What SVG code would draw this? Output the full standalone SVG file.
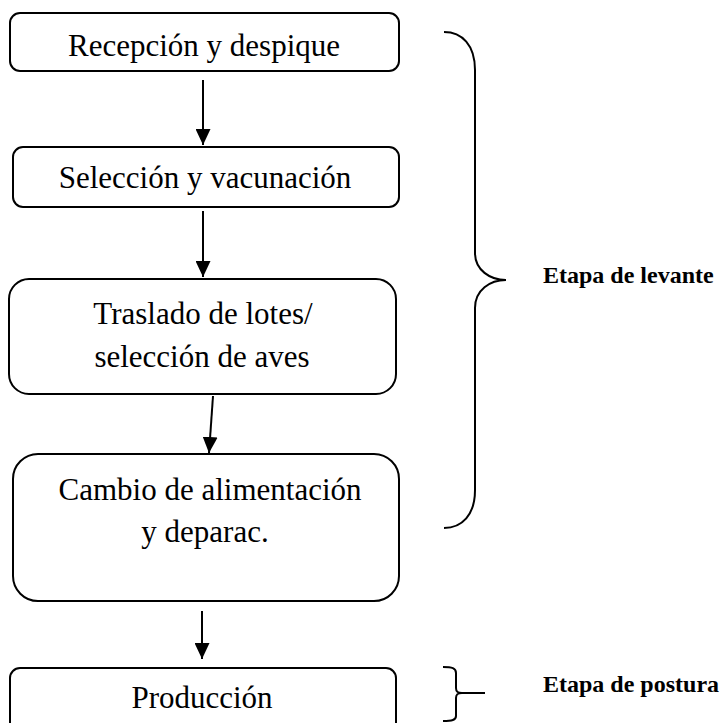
<svg xmlns="http://www.w3.org/2000/svg" width="722" height="723" viewBox="0 0 722 723">
  <defs>
    <style>
      .box { fill: #ffffff; stroke: #000000; stroke-width: 2; }
      .label { font-family: "Liberation Serif", "Times New Roman", serif; font-size: 31px; fill: #000000; text-anchor: middle; }
      .stage { font-family: "Liberation Serif", "Times New Roman", serif; font-size: 24px; font-weight: bold; fill: #000000; }
      .link { stroke: #000000; stroke-width: 2; fill: none; }
      .brace { stroke: #000000; stroke-width: 2; fill: none; }
    </style>
    <marker id="arrow" viewBox="0 0 16 15" refX="16" refY="7.5" markerWidth="16" markerHeight="15" markerUnits="userSpaceOnUse" orient="auto">
      <path d="M0,0 L16,7.5 L0,15 Z" fill="#000000"/>
    </marker>
  </defs>

  <rect width="722" height="723" fill="#ffffff"/>

  <!-- process steps -->
  <g id="recepcion">
    <rect class="box" x="10" y="13" width="389" height="58" rx="10"/>
    <text class="label" x="204" y="56">Recepción y despique</text>
  </g>
  <g id="seleccion">
    <rect class="box" x="13" y="147" width="386" height="60" rx="10"/>
    <text class="label" x="205" y="188">Selección y vacunación</text>
  </g>
  <g id="traslado">
    <rect class="box" x="9" y="279" width="387" height="115" rx="20"/>
    <text class="label" x="203" y="324">Traslado de lotes/</text>
    <text class="label" x="202" y="367">selección de aves</text>
  </g>
  <g id="cambio">
    <rect class="box" x="13" y="454" width="386" height="147" rx="25"/>
    <text class="label" x="210" y="500">Cambio de alimentación</text>
    <text class="label" x="205" y="542">y deparac.</text>
  </g>
  <g id="produccion">
    <rect class="box" x="10" y="668" width="386" height="80" rx="10"/>
    <text class="label" x="202" y="708">Producción</text>
  </g>

  <!-- flow arrows -->
  <g id="connectors">
    <line class="link" x1="203" y1="80" x2="203" y2="145" marker-end="url(#arrow)"/>
    <line class="link" x1="203" y1="211" x2="203" y2="277" marker-end="url(#arrow)"/>
    <line class="link" x1="213" y1="396" x2="209" y2="453" marker-end="url(#arrow)"/>
    <line class="link" x1="202" y1="611" x2="202" y2="659" marker-end="url(#arrow)"/>
  </g>

  <!-- stage braces and labels -->
  <g id="etapa-levante">
    <path class="brace" d="M444,32 C462,32 475,45 475,70 V253 C475,270 490,280 506,280 C490,280 475,290 475,308 V490 C475,515 462,528 444,528"/>
    <text class="stage" x="543" y="283">Etapa de levante</text>
  </g>
  <g id="etapa-postura">
    <path class="brace" d="M443,667 C452,667 456,668 456,673 V688 C456,692 458,693 462,693 H485 M462,693 C458,693 456,694 456,698 V716 C456,720 452,721 443,721"/>
    <text class="stage" x="543" y="692">Etapa de postura</text>
  </g>
</svg>
